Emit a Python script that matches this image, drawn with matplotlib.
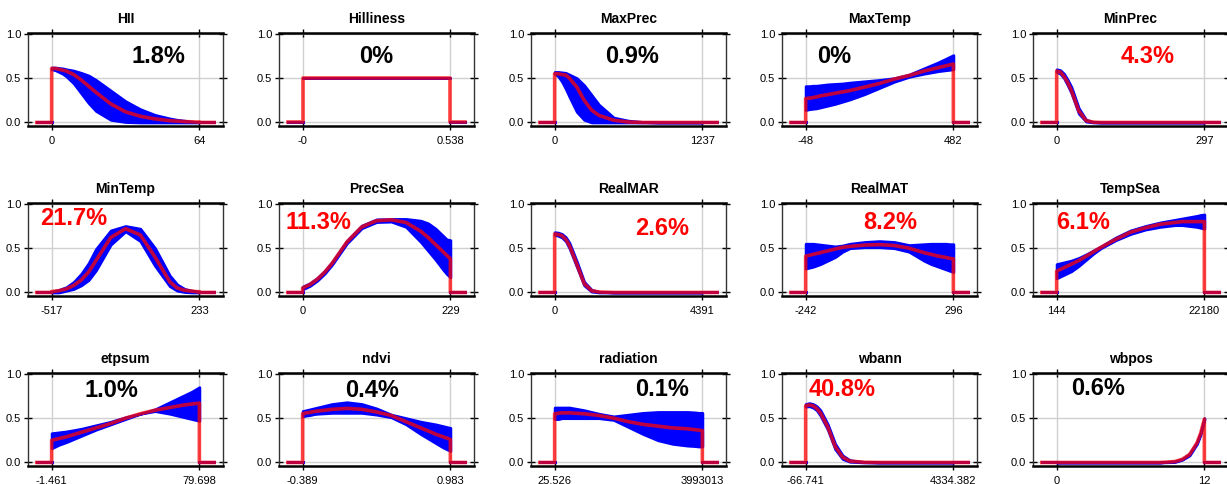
import numpy as np
import matplotlib
matplotlib.use("Agg")
import matplotlib.pyplot as plt

plt.rcParams['font.family'] = ['Liberation Sans', 'DejaVu Sans']

# Variables, ranges and percent contribution
names = ['HII', 'Hilliness', 'MaxPrec', 'MaxTemp', 'MinPrec',
         'MinTemp', 'PrecSea', 'RealMAR', 'RealMAT', 'TempSea',
         'etpsum', 'ndvi', 'radiation', 'wbann', 'wbpos']
x_min = [0, 0, 0, -48, 0, -517, 0, 0, -242, 144, -1.461, -0.389, 25.526, -66.741, 0]
x_max = [64, 0.538, 1237, 482, 297, 233, 229, 4391, 296, 22180, 79.698, 0.983, 3993013, 4334.382, 12]
lab_min = ['0', '-0', '0', '-48', '0', '-517', '0', '0', '-242', '144',
           '-1.461', '-0.389', '25.526', '-66.741', '0']
lab_max = ['64', '0.538', '1237', '482', '297', '233', '229', '4391', '296', '22180',
           '79.698', '0.983', '3993013', '4334.382', '12']
contrib = ['1.8%', '0%', '0.9%', '0%', '4.3%', '21.7%', '11.3%', '2.6%', '8.2%', '6.1%',
           '1.0%', '0.4%', '0.1%', '40.8%', '0.6%']
highlight = [False, False, False, False, True, True, True, True, True, True,
             False, False, False, True, False]

# sample positions as fraction of each variable's range
frac = [0, 0.025, 0.05, 0.075, 0.1, 0.15, 0.2, 0.25, 0.3, 0.4, 0.5, 0.6, 0.7, 0.8, 0.85, 0.9, 0.95, 0.975, 1.0]

mean = [
    [.61, .61, .60, .59, .58, .54, .48, .41, .34, .21, .12, .07, .04, .02, .015, .01, .007, .005, .005],
    [.5, .5, .5, .5, .5, .5, .5, .5, .5, .5, .5, .5, .5, .5, .5, .5, .5, .5, .5],
    [.55, .55, .54, .535, .5, .4, .25, .14, .08, .025, .005, 0, 0, 0, 0, 0, 0, 0, 0],
    [.27, .275, .28, .29, .3, .315, .33, .345, .36, .4, .44, .49, .53, .58, .6, .62, .64, .65, .66],
    [.58, .57, .52, .45, .36, .13, .02, .003, 0, 0, 0, 0, 0, 0, 0, 0, 0, 0, 0],
    [.01, .015, .02, .03, .04, .08, .14, .23, .36, .62, .72, .65, .4, .12, .05, .025, .015, .01, .008],
    [.05, .07, .09, .12, .15, .23, .33, .45, .57, .74, .81, .82, .79, .69, .62, .54, .46, .42, .38],
    [.66, .655, .64, .6, .53, .32, .1, .02, .005, 0, 0, 0, 0, 0, 0, 0, 0, 0, 0],
    [.41, .42, .43, .44, .45, .47, .49, .51, .52, .535, .54, .53, .5, .45, .43, .41, .395, .385, .38],
    [.24, .26, .28, .3, .32, .36, .41, .46, .51, .6, .68, .73, .77, .79, .8, .8, .8, .8, .8],
    [.25, .26, .27, .28, .29, .315, .34, .365, .39, .44, .5, .55, .59, .62, .635, .65, .66, .665, .67],
    [.55, .56, .565, .575, .58, .59, .6, .605, .61, .6, .57, .53, .46, .39, .355, .32, .29, .275, .26],
    [.55, .555, .56, .56, .56, .555, .55, .54, .53, .5, .46, .43, .41, .39, .385, .38, .37, .365, .36],
    [.64, .65, .64, .61, .56, .4, .18, .06, .015, .002, 0, 0, 0, 0, 0, 0, 0, 0, 0],
    [0, 0, 0, 0, 0, 0, 0, 0, 0, 0, 0, 0, 0, .01, .035, .09, .22, .33, .49],
]
upper = [
    [.62, .62, .615, .61, .60, .585, .56, .53, .48, .36, .24, .15, .085, .045, .03, .02, .01, .005, .005],
    [.5, .5, .5, .5, .5, .5, .5, .5, .5, .5, .5, .5, .5, .5, .5, .5, .5, .5, .5],
    [.57, .57, .565, .56, .54, .5, .42, .31, .2, .055, .02, .005, 0, 0, 0, 0, 0, 0, 0],
    [.41, .41, .415, .415, .42, .43, .435, .44, .45, .465, .48, .5, .54, .61, .645, .68, .72, .74, .76],
    [.6, .59, .55, .48, .4, .16, .03, .005, 0, 0, 0, 0, 0, 0, 0, 0, 0, 0, 0],
    [.01, .02, .03, .045, .06, .12, .21, .33, .49, .7, .75, .72, .5, .19, .09, .04, .02, .015, .01],
    [.065, .085, .105, .135, .165, .245, .345, .465, .585, .755, .825, .83, .83, .81, .78, .72, .64, .6, .59],
    [.68, .675, .66, .625, .56, .35, .12, .03, .008, 0, 0, 0, 0, 0, 0, 0, 0, 0, 0],
    [.55, .55, .55, .545, .54, .53, .52, .53, .55, .57, .58, .57, .535, .545, .55, .55, .55, .545, .545],
    [.32, .33, .34, .35, .36, .39, .43, .475, .52, .62, .7, .75, .79, .82, .835, .85, .865, .875, .88],
    [.33, .335, .34, .345, .35, .365, .38, .4, .42, .46, .51, .55, .6, .68, .72, .76, .8, .825, .85],
    [.58, .59, .6, .61, .62, .64, .66, .67, .68, .66, .61, .54, .5, .46, .445, .43, .41, .4, .39],
    [.62, .62, .62, .62, .62, .605, .59, .57, .55, .52, .54, .56, .57, .57, .57, .57, .565, .56, .56],
    [.66, .67, .66, .635, .59, .43, .21, .08, .025, .005, 0, 0, 0, 0, 0, 0, 0, 0, 0],
    [0, 0, 0, 0, 0, 0, 0, 0, 0, 0, 0, 0, 0, .015, .04, .1, .23, .34, .5],
]
lower = [
    [.60, .59, .57, .55, .52, .44, .33, .22, .13, .03, .005, 0, 0, 0, 0, 0, 0, 0, 0],
    [.5, .5, .5, .5, .5, .5, .5, .5, .5, .5, .5, .5, .5, .5, .5, .5, .5, .5, .5],
    [.55, .52, .46, .38, .29, .12, .03, 0, 0, 0, 0, 0, 0, 0, 0, 0, 0, 0, 0],
    [.14, .15, .155, .16, .17, .19, .21, .235, .26, .32, .39, .46, .515, .55, .565, .58, .59, .595, .6],
    [.57, .55, .5, .42, .33, .1, .01, 0, 0, 0, 0, 0, 0, 0, 0, 0, 0, 0, 0],
    [0, 0, 0, .01, .02, .04, .08, .14, .25, .54, .69, .58, .3, .07, .02, .005, 0, 0, 0],
    [.035, .055, .075, .105, .135, .215, .315, .435, .555, .725, .795, .8, .74, .57, .47, .37, .26, .21, .17],
    [.65, .64, .62, .58, .5, .29, .08, .01, 0, 0, 0, 0, 0, 0, 0, 0, 0, 0, 0],
    [.27, .28, .29, .305, .32, .36, .4, .46, .5, .51, .51, .5, .46, .36, .32, .29, .26, .245, .23],
    [.16, .18, .2, .22, .24, .3, .37, .44, .5, .59, .66, .71, .74, .76, .76, .75, .74, .73, .72],
    [.16, .18, .2, .215, .23, .265, .3, .335, .37, .43, .49, .55, .58, .55, .53, .51, .49, .48, .47],
    [.52, .53, .535, .545, .55, .555, .56, .56, .56, .56, .54, .51, .43, .32, .27, .22, .17, .15, .13],
    [.49, .49, .5, .5, .5, .5, .5, .5, .5, .48, .4, .32, .25, .21, .2, .19, .185, .18, .18],
    [.63, .635, .62, .59, .53, .37, .15, .04, .008, 0, 0, 0, 0, 0, 0, 0, 0, 0, 0],
    [0, 0, 0, 0, 0, 0, 0, 0, 0, 0, 0, 0, 0, .005, .03, .08, .21, .32, .48],
]

# placement of the percentage labels (axes fraction)
pct_pos = [(.667, .742), (.497, .742), (.518, .742), (.27, .742), (.59, .742),
           (.236, .83), (.2, .785), (.67, .73), (.554, .785), (.256, .785),
           (.43, .817), (.477, .817), (.67, .82), (.31, .82), (.333, .83)]

W, H = 1227, 484
fig = plt.figure(figsize=(W / 100, H / 100), dpi=100)
col_left = [28, 279, 531, 782, 1033]
row_bottom = [126, 296, 466]
aw, ah = 195, 93

for i, name in enumerate(names):
    r, c = divmod(i, 5)
    ax = fig.add_axes([col_left[c] / W, (H - row_bottom[r]) / H, aw / W, ah / H])
    x0, x1 = x_min[i], x_max[i]
    d = x1 - x0
    xs = x0 + np.array(frac) * d
    m, hi, lo = np.array(mean[i]), np.array(upper[i]), np.array(lower[i])

    # confidence band, drawn as zero outside the data range too
    ax.fill_between(xs, lo, hi, color='#0000ff', lw=2, zorder=2)
    ax.plot([x0 - 0.1 * d, x0], [0, 0], color='#0000ff', lw=2.2, zorder=2)
    ax.plot([x1, x1 + 0.1 * d], [0, 0], color='#0000ff', lw=2.2, zorder=2)

    lx = np.concatenate([[x0 - 0.1 * d, x0], xs, [x1, x1 + 0.1 * d]])
    ly = np.concatenate([[0, 0], m, [0, 0]])
    ax.plot(lx, ly, color='#ff0000', lw=2.6, alpha=0.75, zorder=3,
            solid_joinstyle='round')

    ax.set_xlim(x0 - 0.16 * d, x1 + 0.16 * d)
    ax.set_ylim(-0.04, 1.01)
    ax.set_xticks([x0, x1])
    ax.set_xticklabels([lab_min[i], lab_max[i]])
    ax.set_yticks([0, 0.5, 1.0])
    ax.set_yticklabels(['0.0', '0.5', '1.0'])
    ax.grid(True, color='#d0d0d0', lw=1, zorder=0)
    ax.set_axisbelow(True)
    ax.tick_params(direction='inout', length=6, width=1, top=True, right=True,
                   labelsize=8, colors='black')
    ax.tick_params(axis='x', pad=4)
    ax.tick_params(axis='y', pad=2)
    for s in ['top', 'bottom']:
        ax.spines[s].set_linewidth(1.8)
    for s in ['left', 'right']:
        ax.spines[s].set_linewidth(1.0)
        ax.spines[s].set_color('#333333')

    ax.set_title(name, fontsize=10, fontweight='bold', pad=7)
    px, py = pct_pos[i]
    ax.text(px, py, contrib[i], transform=ax.transAxes, ha='center', va='center',
            fontsize=17, fontweight='bold',
            color='#ff0000' if highlight[i] else 'black', zorder=5)

fig.savefig('out.png', dpi=100)
